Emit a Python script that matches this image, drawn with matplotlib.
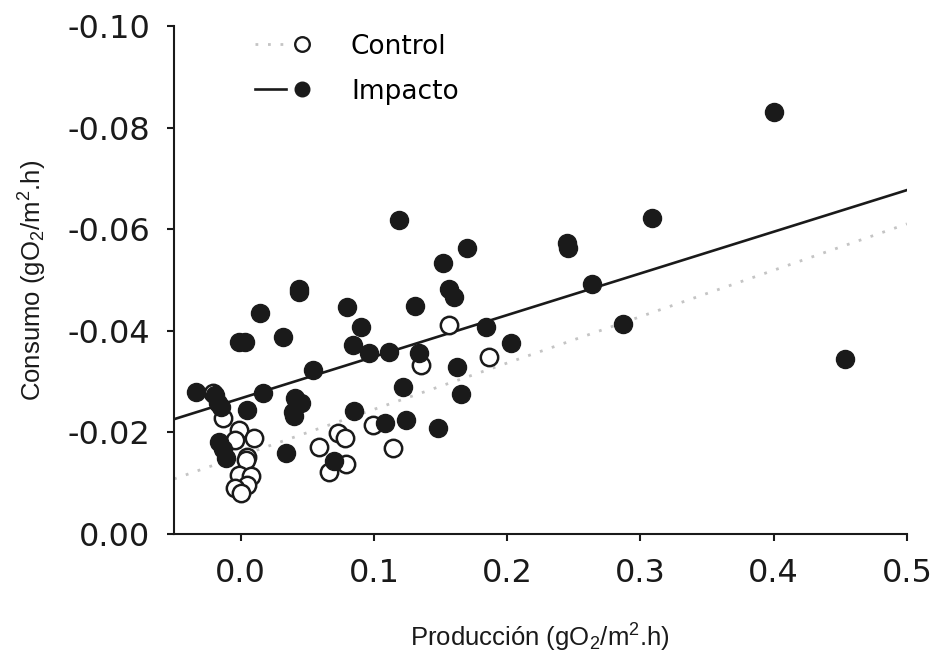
import matplotlib
matplotlib.use('Agg')
import matplotlib.pyplot as plt
import numpy as np
from matplotlib.lines import Line2D
from matplotlib.legend_handler import HandlerTuple

plt.rcParams['mathtext.fontset'] = 'custom'
plt.rcParams['mathtext.rm'] = 'Liberation Sans'
plt.rcParams['mathtext.it'] = 'Liberation Sans'

# Control (open circles)
control_x = [-0.021, -0.0135, -0.0015, 0.010, -0.004, 0.005, 0.004, -0.0015, 0.0075,
             0.005, -0.004, 0.000, 0.059, 0.066, 0.073, 0.078, 0.079, 0.099, 0.114,
             0.1357, 0.156, 0.1867]
control_y = [-0.0278, -0.0228, -0.0205, -0.0189, -0.0185, -0.0152, -0.0145, -0.0116, -0.0114,
             -0.0096, -0.0090, -0.0081, -0.0171, -0.0122, -0.0199, -0.0189, -0.0138, -0.0215,
             -0.0169, -0.0333, -0.0411, -0.0348]

# Impacto (filled circles)
impacto_x = [-0.0337, -0.019, -0.017, -0.015, -0.0165, -0.0135, -0.011, -0.0015, 0.003,
             0.005, 0.0142, 0.017, 0.0315, 0.034, 0.041, 0.045, 0.039, 0.040, 0.0435,
             0.0435, 0.054, 0.070, 0.0795, 0.084, 0.085, 0.090, 0.0967, 0.108, 0.111,
             0.119, 0.122, 0.124, 0.131, 0.134, 0.148, 0.152, 0.156, 0.160, 0.1627,
             0.165, 0.170, 0.184, 0.203, 0.245, 0.246, 0.264, 0.287, 0.309, 0.400, 0.4535]
impacto_y = [-0.0280, -0.0274, -0.0258, -0.0250, -0.0181, -0.0167, -0.0150, -0.0378, -0.0378,
             -0.0244, -0.0435, -0.0278, -0.0388, -0.0159, -0.0268, -0.0258, -0.0240, -0.0233,
             -0.0482, -0.0476, -0.0323, -0.0144, -0.0447, -0.0372, -0.0242, -0.0407, -0.0356,
             -0.0218, -0.0358, -0.0618, -0.0289, -0.0224, -0.0449, -0.0356, -0.0209, -0.0533,
             -0.0482, -0.0467, -0.0329, -0.0276, -0.0563, -0.0407, -0.0376, -0.0573, -0.0563,
             -0.0492, -0.0413, -0.0622, -0.0831, -0.0345]

# regression lines (slope, intercept)
control_fit = (-0.0913, -0.0154)
impacto_fit = (-0.0820, -0.0267)

xticks = [0.0, 0.1, 0.2, 0.3, 0.4, 0.5]
xticklabels = ['0.0', '0.1', '0.2', '0.3', '0.4', '0.5']
yticks = [0.00, -0.02, -0.04, -0.06, -0.08, -0.10]
yticklabels = ['0.00', '-0.02', '-0.04', '-0.06', '-0.08', '-0.10']

fig = plt.figure(figsize=(9.34, 6.55), dpi=100)
ax = fig.add_axes([0.1863, 0.1847, 0.7847, 0.7756])

xs = np.array([-0.05, 0.5])
ax.plot(xs, control_fit[0] * xs + control_fit[1], color='#c4c4c4',
        lw=2.0, ls=(0, (1, 3.5)), zorder=1)
ax.plot(xs, impacto_fit[0] * xs + impacto_fit[1], color='#1a1a1a',
        lw=1.9, zorder=2)

ax.plot(control_x, control_y, 'o', ms=12.5, mfc='white', mec='#1a1a1a', mew=1.8,
        ls='none', zorder=3)
ax.plot(impacto_x, impacto_y, 'o', ms=13, mfc='#1a1a1a', mec='#1a1a1a', mew=1,
        ls='none', zorder=4)

ax.set_xlim(-0.05, 0.5)
ax.set_ylim(0.0, -0.10)
ax.set_xticks(xticks)
ax.set_xticklabels(xticklabels)
ax.set_yticks(yticks)
ax.set_yticklabels(yticklabels)

for s in ['top', 'right']:
    ax.spines[s].set_visible(False)
for s in ['left', 'bottom']:
    ax.spines[s].set_linewidth(1.5)
    ax.spines[s].set_color('#1a1a1a')

ax.tick_params(axis='both', direction='out', length=5, width=1.5, colors='#1a1a1a',
               labelsize=23, pad=12)
for lab in ax.get_xticklabels() + ax.get_yticklabels():
    lab.set_fontfamily('DejaVu Sans')
    lab.set_color('#1a1a1a')

ax.set_xlabel(r'Producción (gO$_2$/m$^2$.h)', fontsize=18.5, family='Liberation Sans',
              labelpad=24, color='#1a1a1a')
ax.set_ylabel(r'Consumo (gO$_2$/m$^2$.h)', fontsize=18.5, family='Liberation Sans',
              labelpad=13, color='#1a1a1a')

h_c_line = Line2D([], [], color='#c4c4c4', lw=2.0, ls=(0, (1, 3.5)))
h_c_mark = Line2D([], [], marker='o', ms=10.5, mfc='white', mec='#1a1a1a', mew=1.7, ls='none')
h_i_line = Line2D([], [], color='#1a1a1a', lw=1.9)
h_i_mark = Line2D([], [], marker='o', ms=10.5, mfc='#1a1a1a', mec='#1a1a1a', ls='none')
ax.legend([(h_c_line, h_c_mark), (h_i_line, h_i_mark)], ['Control', 'Impacto'],
          handler_map={tuple: HandlerTuple(ndivide=None, pad=0)},
          loc='upper left', bbox_to_anchor=(0.11, 0.985), frameon=False,
          borderaxespad=0, borderpad=0, handlelength=2.4, handletextpad=1.25,
          labelspacing=0.72, prop={'family': 'DejaVu Sans', 'size': 19})

fig.savefig('out.png', dpi=100)
